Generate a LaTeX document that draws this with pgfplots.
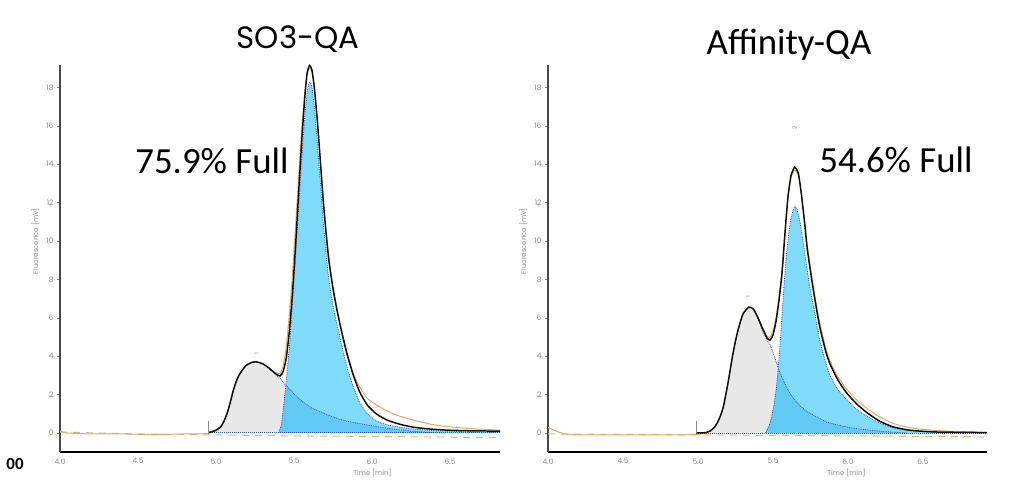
\documentclass[border=0pt]{standalone}
\usepackage{fontspec}
\setmainfont{Carlito}
\newfontfamily\geo{Poppins}
\usepackage{pgfplots}
\pgfplotsset{compat=1.18}

\definecolor{fitblack}{HTML}{111111}
\definecolor{rawtan}{HTML}{E0A860}
\definecolor{dashtan}{HTML}{D8B888}
\definecolor{pkgray}{HTML}{E8E8E8}
\definecolor{pkblue}{HTML}{80DBFA}
\definecolor{pkblue2}{HTML}{62C9F4}
\definecolor{dotp}{HTML}{4A4AA8}
\definecolor{dotb}{HTML}{2A55B5}
\definecolor{ticktxt}{HTML}{8A8A8A}

\tikzset{pklab/.style={font=\geo\fontsize{5.5}{6}\selectfont, text=ticktxt, rotate=90}}

\pgfplotsset{
  chrom/.style={
    scale only axis, height=387bp,
    ymin=-0.99, ymax=19.17, xmin=4,
    axis x line*=bottom, axis y line*=left,
    axis line style={-},
    x axis line style={black, line width=2pt},
    y axis line style={black!72, line width=1.6pt},
    xtick={4,4.5,5,5.5,6,6.5}, ytick={0,2,...,18},
    tick align=outside,
    major tick length=3bp,
    xtick style={draw=none},
    ytick style={ticktxt, line width=0.5pt},
    /pgf/number format/assume math mode=true,
    xticklabel style={/pgf/number format/fixed, /pgf/number format/fixed zerofill,
      /pgf/number format/precision=1, font=\geo\fontsize{7.5}{8}\selectfont, text=ticktxt},
    yticklabel style={font=\geo\fontsize{7.5}{8}\selectfont, text=ticktxt},
    xlabel={Time [min]}, ylabel={Fluorescence [mV]},
    xlabel style={font=\geo\fontsize{7}{8}\selectfont, text=ticktxt, anchor=north, inner sep=1bp},
    ylabel style={font=\geo\fontsize{7}{8}\selectfont, text=ticktxt, at={(ticklabel cs:0.545)}},
    every axis plot/.append style={smooth, tension=0.35},
  },
}

\begin{document}
\begin{tikzpicture}
\useasboundingbox (0,0) rectangle (1025bp,490bp);

% ---------------- SO3-QA ----------------
\begin{axis}[chrom, width=440bp, xmax=6.82, at={(60bp,38bp)}, anchor=south west,
  xlabel style={at={(ticklabel cs:0.71)}}]
% peak 1 area
\addplot[draw=none, fill=pkgray] coordinates {
 (4.95,0) (4.98,0.07) (5.00,0.14) (5.03,0.3) (5.05,0.58) (5.07,0.97) (5.09,1.5)
 (5.11,2.15) (5.13,2.65) (5.15,3.0) (5.19,3.45) (5.23,3.63) (5.26,3.65) (5.30,3.55)
 (5.34,3.33) (5.38,3.05) (5.41,2.85) (5.44,2.55) (5.47,2.3) (5.51,1.95) (5.56,1.6)
 (5.61,1.32) (5.67,1.1) (5.73,0.9) (5.79,0.72) (5.88,0.55) (5.97,0.42) (6.05,0.3)
 (6.13,0.21) (6.20,0.14) (6.26,0.09) (6.35,0.04) (6.45,0)} \closedcycle;
% peak 2 area
\addplot[draw=none, fill=pkblue] coordinates {
 (5.40,0) (5.42,0.5) (5.44,1.9) (5.46,3.6) (5.475,5.0) (5.49,6.8) (5.51,9.2) (5.53,11.8)
 (5.55,14.4) (5.57,16.6) (5.585,17.8) (5.60,18.3) (5.615,18.0) (5.63,16.9) (5.65,15.0)
 (5.67,12.9) (5.69,10.7) (5.72,8.2) (5.75,6.6) (5.78,5.5) (5.81,4.4) (5.84,3.4) (5.88,2.4)
 (5.92,1.6) (5.97,1.0) (6.03,0.62) (6.10,0.42) (6.18,0.3) (6.26,0.21) (6.35,0.15)
 (6.48,0.1) (6.65,0.05) (6.82,0.03)} \closedcycle;
% overlap of the two peaks
\addplot[draw=none, fill=pkblue2] coordinates {
 (5.40,0) (5.42,0.5) (5.44,1.9) (5.45,2.45) (5.47,2.3) (5.51,1.95) (5.56,1.6)
 (5.61,1.32) (5.67,1.1) (5.73,0.9) (5.79,0.72) (5.88,0.55) (5.97,0.42) (6.05,0.3)
 (6.13,0.21) (6.20,0.14) (6.26,0.09) (6.35,0.04) (6.45,0)} \closedcycle;
% dashed baseline
\addplot[dashtan, line width=1pt, dash pattern=on 7bp off 6bp, sharp plot] coordinates {
 (4.0,0.05) (4.5,-0.05) (5.0,-0.1) (5.5,-0.15) (6.0,-0.18) (6.5,-0.22) (6.82,-0.25)};
% raw trace
\addplot[rawtan, line width=1pt] coordinates {
 (4.00,0.1) (4.05,0.0) (4.2,-0.05) (4.4,-0.05) (4.6,-0.08) (4.8,-0.05) (4.95,-0.03)
 (5.00,0.12) (5.03,0.3) (5.07,1.0) (5.11,2.2) (5.15,3.05) (5.19,3.5) (5.23,3.68)
 (5.26,3.72) (5.30,3.6) (5.34,3.4) (5.38,3.15) (5.41,3.1) (5.43,3.5) (5.45,4.5)
 (5.47,6.2) (5.49,8.3) (5.51,10.8) (5.53,13.4) (5.55,15.9) (5.57,17.9) (5.585,18.8)
 (5.60,19.0) (5.615,18.8) (5.63,17.9) (5.65,16.2) (5.67,14.1) (5.69,12.0) (5.72,9.4)
 (5.75,7.6) (5.78,6.3) (5.81,5.2) (5.84,4.2) (5.88,3.1) (5.92,2.4) (5.97,1.8)
 (6.05,1.35) (6.15,0.95) (6.26,0.68) (6.40,0.42) (6.58,0.26) (6.70,0.2) (6.82,0.15)};
% component outlines
\addplot[dotp, line width=0.8pt, densely dotted] coordinates {
 (5.34,3.33) (5.38,3.05) (5.41,2.85) (5.44,2.55) (5.47,2.3) (5.51,1.95) (5.56,1.6)
 (5.61,1.32) (5.67,1.1) (5.73,0.9) (5.79,0.72) (5.88,0.55) (5.97,0.42) (6.05,0.3)
 (6.13,0.21) (6.20,0.14) (6.26,0.09) (6.35,0.04) (6.45,0)};
\addplot[dotb, line width=0.8pt, densely dotted] coordinates {
 (5.40,0) (5.42,0.5) (5.44,1.9) (5.46,3.6) (5.475,5.0) (5.49,6.8) (5.51,9.2) (5.53,11.8)
 (5.55,14.4) (5.57,16.6) (5.585,17.8) (5.60,18.3) (5.615,18.0) (5.63,16.9) (5.65,15.0)
 (5.67,12.9) (5.69,10.7) (5.72,8.2) (5.75,6.6) (5.78,5.5) (5.81,4.4) (5.84,3.4) (5.88,2.4)
 (5.92,1.6) (5.97,1.0) (6.03,0.62) (6.10,0.42) (6.18,0.3) (6.26,0.21) (6.35,0.15)
 (6.48,0.1) (6.65,0.05) (6.82,0.03)};
\addplot[dotb, line width=1pt, densely dotted, sharp plot] coordinates {(4.95,0) (6.82,0)};
% fitted trace
\addplot[fitblack, line width=1.5pt] coordinates {
 (4.95,0.02) (4.98,0.08) (5.00,0.15) (5.03,0.32) (5.05,0.6) (5.07,1.0) (5.09,1.55)
 (5.11,2.2) (5.13,2.7) (5.15,3.05) (5.19,3.5) (5.23,3.68) (5.26,3.7) (5.30,3.6)
 (5.34,3.38) (5.38,3.1) (5.41,2.97) (5.43,3.2) (5.45,3.9) (5.47,5.3) (5.49,7.3)
 (5.51,9.8) (5.53,12.6) (5.55,15.3) (5.57,17.6) (5.585,18.8) (5.60,19.15) (5.615,18.9)
 (5.63,18.0) (5.65,16.2) (5.67,14.0) (5.69,11.8) (5.72,9.2) (5.75,7.5) (5.78,6.2)
 (5.81,5.1) (5.84,4.1) (5.88,3.0) (5.92,2.15) (5.97,1.45) (6.03,0.98) (6.10,0.66)
 (6.18,0.45) (6.26,0.31) (6.35,0.22) (6.48,0.15) (6.65,0.11) (6.82,0.1)};
% injection marker
\addplot[ticktxt, line width=0.8pt, sharp plot] coordinates {(4.95,0) (4.95,0.65)};
\node[pklab] at (axis cs:5.26,4.15) {1};
\end{axis}

% ---------------- Affinity-QA ----------------
\begin{axis}[chrom, width=439bp, xmax=6.927, at={(548bp,38bp)}, anchor=south west,
  xlabel style={at={(ticklabel cs:0.68)}}]
\addplot[draw=none, fill=pkgray] coordinates {
 (4.99,0) (5.05,0.02) (5.08,0.1) (5.11,0.3) (5.13,0.53) (5.15,0.88) (5.17,1.37)
 (5.20,2.55) (5.23,3.95) (5.25,4.75) (5.27,5.4) (5.30,6.15) (5.34,6.5) (5.37,6.4)
 (5.40,5.95) (5.43,5.35) (5.46,4.85) (5.48,4.6) (5.50,4.2) (5.53,3.5) (5.56,2.9)
 (5.61,2.1) (5.67,1.5) (5.73,1.1) (5.80,0.8) (5.86,0.57) (5.95,0.38) (6.03,0.26)
 (6.12,0.17) (6.21,0.1) (6.30,0.04) (6.40,0)} \closedcycle;
\addplot[draw=none, fill=pkblue] coordinates {
 (5.45,0) (5.48,0.5) (5.51,1.6) (5.53,2.9) (5.55,4.9) (5.57,7.3) (5.59,9.3) (5.61,10.7)
 (5.63,11.5) (5.645,11.8) (5.66,11.65) (5.68,11.0) (5.70,10.0) (5.72,8.9) (5.75,7.4)
 (5.78,6.2) (5.81,4.9) (5.85,3.7) (5.88,3.0) (5.93,2.3) (5.99,1.75) (6.06,1.22)
 (6.13,0.86) (6.21,0.52) (6.30,0.28) (6.40,0.14) (6.48,0.08) (6.65,0.03) (6.93,0)} \closedcycle;
\addplot[draw=none, fill=pkblue2] coordinates {
 (5.45,0) (5.48,0.5) (5.51,1.6) (5.53,2.9) (5.535,3.35) (5.56,2.9) (5.61,2.1) (5.67,1.5)
 (5.73,1.1) (5.80,0.8) (5.86,0.57) (5.95,0.38) (6.03,0.26) (6.12,0.17) (6.21,0.1)
 (6.30,0.04) (6.40,0)} \closedcycle;
\addplot[dashtan, line width=1pt, dash pattern=on 7bp off 6bp, sharp plot] coordinates {
 (4.0,-0.05) (5.0,-0.1) (6.0,-0.15) (6.93,-0.2)};
\addplot[rawtan, line width=1pt] coordinates {
 (4.00,0.3) (4.03,0.18) (4.07,0.05) (4.12,-0.05) (4.2,-0.1) (4.5,-0.1) (4.8,-0.1)
 (4.99,-0.08) (5.05,0.0) (5.08,0.1) (5.11,0.3) (5.13,0.55) (5.15,0.9) (5.17,1.4)
 (5.20,2.6) (5.23,4.0) (5.27,5.45) (5.30,6.2) (5.34,6.55) (5.37,6.45) (5.40,6.05)
 (5.43,5.5) (5.46,5.05) (5.48,5.0) (5.50,5.3) (5.52,6.0) (5.54,7.1) (5.56,8.5)
 (5.58,10.5) (5.60,12.3) (5.62,13.3) (5.645,13.7) (5.67,13.4) (5.69,12.4) (5.71,11.1)
 (5.73,9.7) (5.77,7.6) (5.81,5.8) (5.85,4.5) (5.88,3.75) (5.93,2.95) (5.99,2.3)
 (6.06,1.7) (6.13,1.25) (6.21,0.85) (6.30,0.5) (6.40,0.3) (6.48,0.2) (6.65,0.1) (6.93,0.03)};
\addplot[dotp, line width=0.8pt, densely dotted] coordinates {
 (5.37,6.4) (5.40,5.95) (5.43,5.35) (5.46,4.85) (5.48,4.6) (5.50,4.2) (5.53,3.5)
 (5.56,2.9) (5.61,2.1) (5.67,1.5) (5.73,1.1) (5.80,0.8) (5.86,0.57) (5.95,0.38)
 (6.03,0.26) (6.12,0.17) (6.21,0.1) (6.30,0.04) (6.40,0)};
\addplot[dotb, line width=0.8pt, densely dotted] coordinates {
 (5.45,0) (5.48,0.5) (5.51,1.6) (5.53,2.9) (5.55,4.9) (5.57,7.3) (5.59,9.3) (5.61,10.7)
 (5.63,11.5) (5.645,11.8) (5.66,11.65) (5.68,11.0) (5.70,10.0) (5.72,8.9) (5.75,7.4)
 (5.78,6.2) (5.81,4.9) (5.85,3.7) (5.88,3.0) (5.93,2.3) (5.99,1.75) (6.06,1.22)
 (6.13,0.86) (6.21,0.52) (6.30,0.28) (6.40,0.14) (6.48,0.08) (6.65,0.03) (6.93,0)};
\addplot[dotb, line width=1pt, densely dotted, sharp plot] coordinates {(4.99,-0.05) (6.93,-0.05)};
\addplot[fitblack, line width=1.5pt] coordinates {
 (4.99,0) (5.05,0.02) (5.08,0.1) (5.11,0.3) (5.13,0.55) (5.15,0.9) (5.17,1.4)
 (5.20,2.6) (5.23,4.0) (5.25,4.8) (5.27,5.45) (5.30,6.2) (5.34,6.56) (5.37,6.45)
 (5.40,6.0) (5.43,5.45) (5.46,4.95) (5.48,4.84) (5.50,5.1) (5.52,5.8) (5.54,6.9)
 (5.56,8.3) (5.58,10.4) (5.60,12.3) (5.62,13.4) (5.645,13.85) (5.67,13.5) (5.69,12.4)
 (5.71,11.0) (5.73,9.5) (5.77,7.4) (5.81,5.6) (5.85,4.3) (5.88,3.6) (5.93,2.8)
 (5.99,2.1) (6.06,1.5) (6.13,1.04) (6.21,0.62) (6.30,0.32) (6.40,0.16) (6.48,0.1)
 (6.60,0.05) (6.93,0.02)};
\addplot[ticktxt, line width=0.8pt, sharp plot] coordinates {(4.99,0) (4.99,0.65)};
\node[pklab] at (axis cs:5.335,7.1) {1};
\node[pklab] at (axis cs:5.645,15.9) {2};
\end{axis}

% titles and annotations
\node[font=\geo\fontsize{31}{36}\selectfont] at (298bp,451bp) {SO3-QA};
\node[font=\fontsize{37}{42}\selectfont] at (789bp,445bp) {Affinity-QA};
\node[font=\fontsize{37}{42}\selectfont] at (212bp,329bp) {75.9\% Full};
\node[font=\fontsize{37}{42}\selectfont] at (896bp,330bp) {54.6\% Full};
\node[font=\bfseries\fontsize{17}{20}\selectfont] at (15bp,26bp) {00};
\end{tikzpicture}
\end{document}
